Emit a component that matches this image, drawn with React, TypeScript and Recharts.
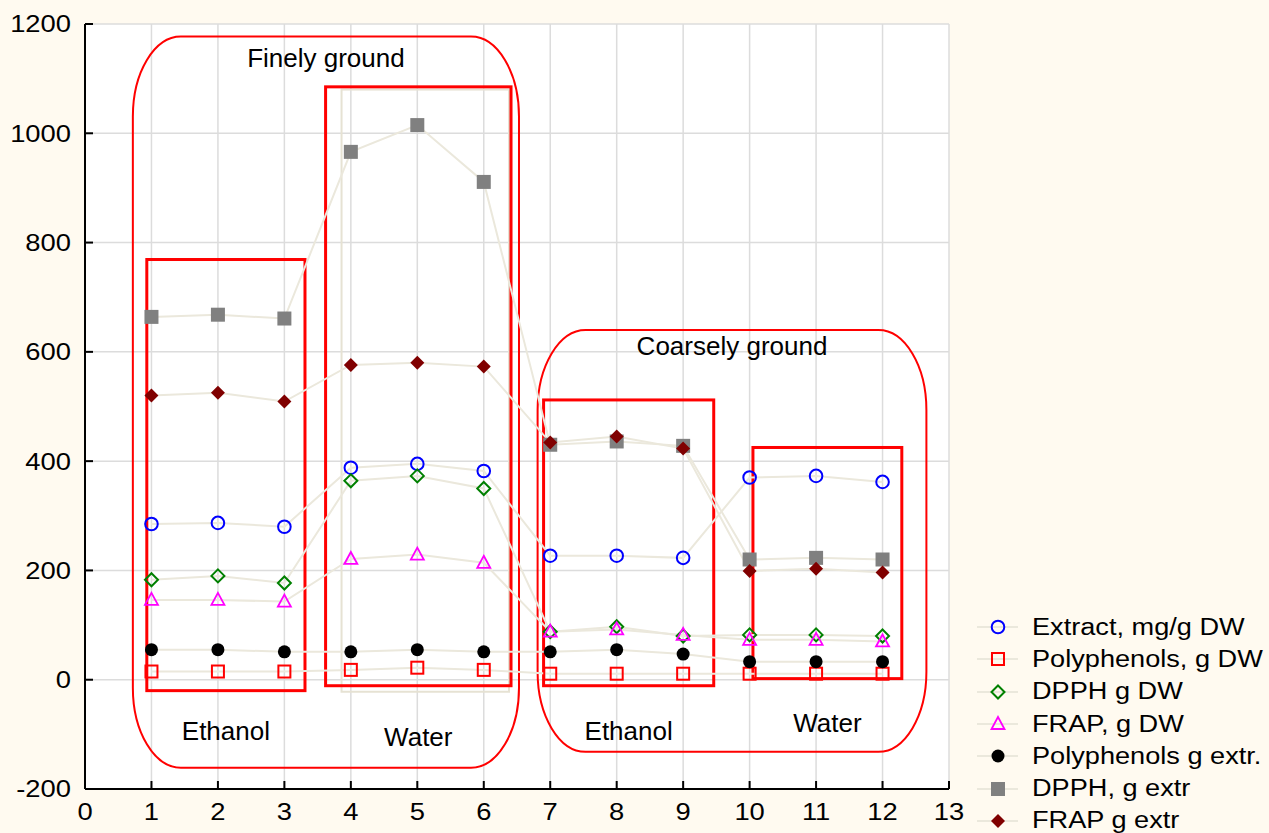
import {
  LineChart,
  Line,
  CartesianGrid,
  XAxis,
  YAxis,
  ReferenceArea,
} from "recharts";

const xs = [1, 2, 3, 4, 5, 6, 7, 8, 9, 10, 11, 12];
const extractDW = [285, 287, 280, 388, 395, 382, 227, 227, 223, 370, 373, 362];
const polyDW = [15, 15, 15, 18, 22, 18, 11, 11, 11, 11, 11, 11];
const dpphDW = [183, 190, 177, 364, 373, 350, 88, 97, 80, 82, 82, 80];
const frapDW = [146, 146, 143, 221, 229, 214, 88, 92, 82, 73, 73, 70];
const polyExtr = [55, 55, 51, 51, 55, 51, 51, 55, 47, 33, 33, 33];
const dpphExtr = [664, 668, 661, 966, 1015, 911, 430, 436, 428, 220, 223, 220];
const frapExtr = [520, 525, 509, 576, 580, 573, 434, 445, 423, 199, 203, 196];

const xTicks = [0, 1, 2, 3, 4, 5, 6, 7, 8, 9, 10, 11, 12, 13];
const yTicks = [-200, 0, 200, 400, 600, 800, 1000, 1200];

// grinding groups (rounded) and solvent groups (plain boxes)
const groupBoxes = [
  { label: "Finely ground", x1: 0.72, x2: 6.53, y1: -161, y2: 1177, offset: 12 },
  { label: "Coarsely ground", x1: 6.81, x2: 12.66, y1: -132, y2: 640, offset: 7 },
];
const solventBoxes = [
  { label: "Ethanol", x1: 0.93, x2: 3.31, y1: -20, y2: 769, offset: 31 },
  { label: "Water", x1: 3.62, x2: 6.41, y1: -11, y2: 1085, offset: 42 },
  { label: "Ethanol", x1: 6.9, x2: 9.46, y1: -11, y2: 512, offset: 36 },
  { label: "Water", x1: 10.05, x2: 12.29, y1: 2, y2: 425, offset: 35 },
];

type MarkerKind =
  | "circleOpen"
  | "squareOpen"
  | "diamondOpen"
  | "triangleOpen"
  | "circle"
  | "square"
  | "diamond";

const series: { key: string; name: string; color: string; marker: MarkerKind; values: number[] }[] = [
  { key: "extractDW", name: "Extract, mg/g DW", color: "#0000ff", marker: "circleOpen", values: extractDW },
  { key: "polyDW", name: "Polyphenols, g DW", color: "#ff0000", marker: "squareOpen", values: polyDW },
  { key: "dpphDW", name: "DPPH g DW", color: "#008000", marker: "diamondOpen", values: dpphDW },
  { key: "frapDW", name: "FRAP, g DW", color: "#ff00ff", marker: "triangleOpen", values: frapDW },
  { key: "polyExtr", name: "Polyphenols g extr.", color: "#000000", marker: "circle", values: polyExtr },
  { key: "dpphExtr", name: "DPPH, g extr", color: "#808080", marker: "square", values: dpphExtr },
  { key: "frapExtr", name: "FRAP g extr", color: "#800000", marker: "diamond", values: frapExtr },
];

const chartData = xs.map((x, i) => {
  const row: Record<string, number> = { x };
  series.forEach((s) => {
    row[s.key] = s.values[i];
  });
  return row;
});

const FONT = "'Liberation Sans', Arial, sans-serif";
const LINE_COLOR = "#ebe8dc";

const Marker = ({ kind, color, cx, cy }: { kind: MarkerKind; color: string; cx: number; cy: number }) => {
  switch (kind) {
    case "circleOpen":
      return <circle cx={cx} cy={cy} r={6.3} fill="none" stroke={color} strokeWidth={2} />;
    case "squareOpen":
      return <rect x={cx - 6} y={cy - 6} width={12} height={12} fill="none" stroke={color} strokeWidth={2} />;
    case "diamondOpen":
      return (
        <polygon
          points={`${cx},${cy - 6.5} ${cx + 6.5},${cy} ${cx},${cy + 6.5} ${cx - 6.5},${cy}`}
          fill="none"
          stroke={color}
          strokeWidth={2}
        />
      );
    case "triangleOpen":
      return (
        <polygon
          points={`${cx},${cy - 7} ${cx + 6.5},${cy + 5} ${cx - 6.5},${cy + 5}`}
          fill="none"
          stroke={color}
          strokeWidth={1.8}
        />
      );
    case "circle":
      return <circle cx={cx} cy={cy} r={6.5} fill={color} />;
    case "square":
      return <rect x={cx - 7} y={cy - 7} width={14} height={14} fill={color} />;
    case "diamond":
      return (
        <polygon points={`${cx},${cy - 7} ${cx + 7},${cy} ${cx},${cy + 7} ${cx - 7},${cy}`} fill={color} />
      );
  }
  return null;
};

const LeftTick = ({ x, y, payload }: any) => (
  <g>
    <line x1={x + 14} x2={x + 22} y1={y} y2={y} stroke="#000" strokeWidth={2} />
    <text
      transform={`translate(${x},${y}) scale(1.14,1)`}
      textAnchor="end"
      dominantBaseline="central"
      fontSize={24}
      fontFamily={FONT}
      fill="#000"
    >
      {payload.value}
    </text>
  </g>
);

const BottomTick = ({ x, y, payload }: any) => (
  <g>
    <line x1={x} x2={x} y1={y} y2={y - 8} stroke="#000" strokeWidth={2} />
    <text
      transform={`translate(${x},${y + 23}) scale(1.14,1)`}
      textAnchor="middle"
      dominantBaseline="central"
      fontSize={24}
      fontFamily={FONT}
      fill="#000"
    >
      {payload.value}
    </text>
  </g>
);

const TopTick = ({ x, y }: any) => <line x1={x} x2={x} y1={y} y2={y + 8} stroke="#000" strokeWidth={2} />;
const RightTick = ({ x, y }: any) => <line x1={x} x2={x - 8} y1={y} y2={y} stroke="#000" strokeWidth={2} />;

const roundedShape = (p: any) => (
  <rect x={p.x} y={p.y} width={p.width} height={p.height} rx={48} ry={80} fill="none" stroke="#ff0000" strokeWidth={2} />
);
const boxShape = (p: any) => (
  <rect x={p.x} y={p.y} width={p.width} height={p.height} fill="none" stroke="#ff0000" strokeWidth={3} />
);
const faintShape = (p: any) => (
  <rect x={p.x} y={p.y} width={p.width} height={p.height} fill="none" stroke="#e6e2d3" strokeWidth={2} />
);

const LegendBox = () => (
  <div style={{ position: "absolute", left: 975, top: 611, fontFamily: FONT }}>
    {series.map((s) => (
      <div key={s.key} style={{ height: 32.3, display: "flex", alignItems: "center" }}>
        <svg width={46} height={20}>
          <line x1={2} x2={43} y1={10} y2={10} stroke={LINE_COLOR} strokeWidth={2} />
          <Marker kind={s.marker} color={s.color} cx={23} cy={10} />
        </svg>
        <span
          style={{
            fontSize: 23,
            marginLeft: 11,
            display: "inline-block",
            transform: "scaleX(1.18)",
            transformOrigin: "left center",
            whiteSpace: "nowrap",
            color: "#000",
          }}
        >
          {s.name}
        </span>
      </div>
    ))}
  </div>
);

export default function App() {
  return (
    <div
      style={{
        position: "absolute",
        left: 0,
        top: 0,
        width: 1269,
        height: 833,
        background: "#fffaf0",
        overflow: "hidden",
        fontFamily: FONT,
      }}
    >
      <LineChart width={1269} height={833} data={chartData} margin={{ top: 24, right: 320, bottom: 0, left: 0 }}>
        <CartesianGrid fill="#ffffff" stroke="#dcdcdc" strokeWidth={1.5} horizontalValues={yTicks} verticalValues={xTicks} />
        <XAxis
          dataKey="x"
          type="number"
          domain={[0, 13]}
          ticks={xTicks}
          interval={0}
          height={44}
          tickSize={0}
          tickMargin={0}
          tickLine={false}
          axisLine={{ stroke: "#000", strokeWidth: 2 }}
          tick={<BottomTick />}
        />
        <XAxis
          xAxisId="top"
          orientation="top"
          dataKey="x"
          type="number"
          domain={[0, 13]}
          ticks={xTicks}
          interval={0}
          height={0}
          tickSize={0}
          tickMargin={0}
          tickLine={false}
          axisLine={{ stroke: "#000", strokeWidth: 2 }}
          tick={<TopTick />}
        />
        <YAxis
          type="number"
          domain={[-200, 1200]}
          ticks={yTicks}
          interval={0}
          width={85}
          tickSize={0}
          tickMargin={14}
          tickLine={false}
          axisLine={{ stroke: "#000", strokeWidth: 2 }}
          tick={<LeftTick />}
        />
        <YAxis
          yAxisId="right"
          orientation="right"
          type="number"
          domain={[-200, 1200]}
          ticks={yTicks}
          interval={0}
          width={0}
          tickSize={0}
          tickMargin={0}
          tickLine={false}
          axisLine={{ stroke: "#000", strokeWidth: 2 }}
          tick={<RightTick />}
        />
        {series.map((s) => (
          <Line
            key={s.key}
            dataKey={s.key}
            name={s.name}
            type="linear"
            stroke={LINE_COLOR}
            strokeWidth={2}
            isAnimationActive={false}
            activeDot={false}
            dot={(p: any) => <Marker key={`${s.key}-${p.index}`} kind={s.marker} color={s.color} cx={p.cx} cy={p.cy} />}
          />
        ))}
        <ReferenceArea x1={3.86} x2={6.38} y1={-22} y2={1080} shape={faintShape} />
        {groupBoxes.map((b) => (
          <ReferenceArea
            key={b.label}
            x1={b.x1}
            x2={b.x2}
            y1={b.y1}
            y2={b.y2}
            shape={roundedShape}
            label={{ value: b.label, position: "insideTop", offset: b.offset, fill: "#000", fontSize: 26, fontFamily: FONT }}
          />
        ))}
        {solventBoxes.map((b, i) => (
          <ReferenceArea
            key={`solvent-${i}`}
            x1={b.x1}
            x2={b.x2}
            y1={b.y1}
            y2={b.y2}
            shape={boxShape}
            label={{ value: b.label, position: "bottom", offset: b.offset, fill: "#000", fontSize: 26, fontFamily: FONT }}
          />
        ))}
      </LineChart>
      <LegendBox />
    </div>
  );
}
